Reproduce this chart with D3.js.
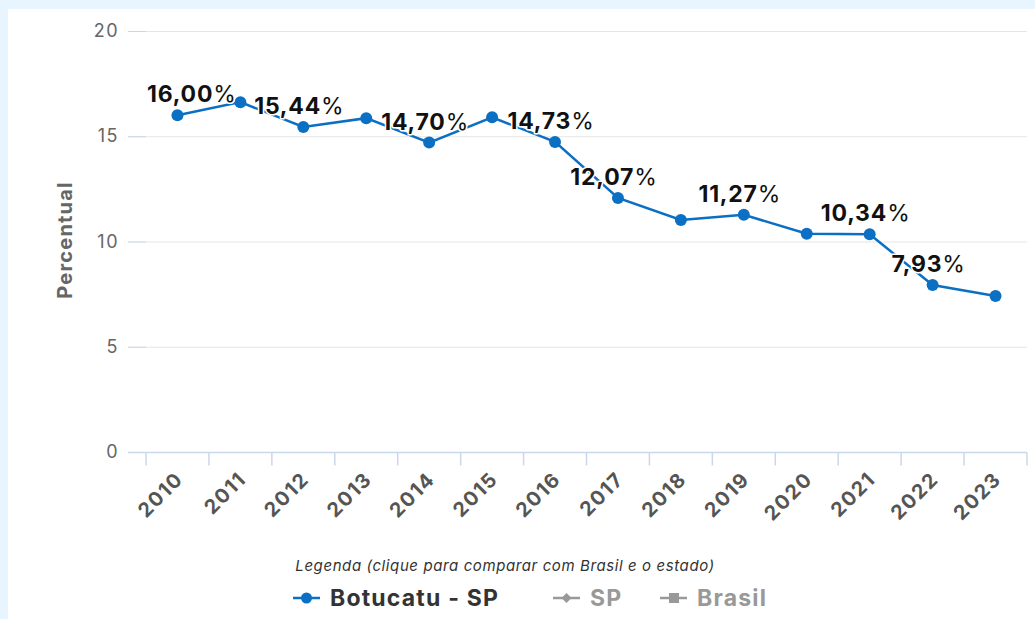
<!DOCTYPE html>
<html>
<head>
<meta charset="utf-8">
<script src="https://cdn.jsdelivr.net/npm/d3@7"></script>
<style>
  html, body { margin: 0; padding: 0; background: #e8f4fe; }
  #chart { position: absolute; left: 8px; top: 9px; }
  text { font-family: Inter, "Open Sans", sans-serif; }
</style>
</head>
<body>
<div id="chart"></div>
<script>
// Data
const years = ["2010", "2011", "2012", "2013", "2014", "2015", "2016",
               "2017", "2018", "2019", "2020", "2021", "2022", "2023"];
const values = [16.00, 16.62, 15.44, 15.86, 14.70, 15.90, 14.73,
                12.07, 11.02, 11.27, 10.37, 10.34, 7.93, 7.41];
// years that show a value label in the picture
const labeledYears = ["2010", "2012", "2014", "2016", "2017", "2019", "2021", "2022"];
const yTicks = [0, 5, 10, 15, 20];
const legendItems = ["Botucatu - SP", "SP", "Brasil"];

const data = years.map((y, i) => ({year: y, value: values[i]}));
const fmt = v => v.toFixed(2).replace(".", ",");

const width = 1027, height = 610;
// offsets of the white card inside the page
const ox = 8, oy = 9;
const margins = {top: 31 - oy, right: 0, bottom: height - (452 - oy), left: 146 - ox};
const blue = "#0b6fc3";

const svg = d3.select("#chart")
  .append("svg")
  .attr("width", width)
  .attr("height", height)
  .style("background", "#fff");

const xScale = d3.scaleBand()
  .domain(years)
  .range([margins.left, width - ox - margins.right])
  .padding(0);

const yScale = d3.scaleLinear()
  .domain([0, 20])
  .range([height - margins.bottom, margins.top]);

const gridLeft = margins.left - 18;
const plotRight = xScale.range()[1];

/* gridlines and small y ticks */
svg.append("g")
  .selectAll("line")
  .data(yTicks.filter(d => d > 0))
  .join("line")
    .attr("x1", gridLeft)
    .attr("x2", plotRight)
    .attr("y1", d => yScale(d) + 0.5)
    .attr("y2", d => yScale(d) + 0.5)
    .style("stroke", "#e6e6e6")
    .style("stroke-width", 1);

svg.append("g")
  .selectAll("line")
  .data(yTicks.filter(d => d > 0))
  .join("line")
    .attr("x1", gridLeft)
    .attr("x2", margins.left)
    .attr("y1", d => yScale(d) + 0.5)
    .attr("y2", d => yScale(d) + 0.5)
    .style("stroke", "#ccd6eb");

/* y tick labels */
svg.append("g")
  .selectAll("text")
  .data(yTicks)
  .join("text")
    .attr("x", 111)
    .attr("y", d => yScale(d) + 6)
    .style("text-anchor", "end")
    .style("font-size", "18px")
    .style("letter-spacing", "1.5px")
    .style("fill", "#666")
    .text(d => d);

/* y axis title */
svg.append("text")
  .attr("transform", `translate(64, ${240 - oy}) rotate(-90)`)
  .style("text-anchor", "middle")
  .style("font-size", "20px")
  .style("font-weight", 700)
  .style("letter-spacing", "1.2px")
  .style("fill", "#666")
  .text("Percentual");

/* x axis */
const x0 = yScale(0) + 0.5;
svg.append("line")
  .attr("x1", gridLeft).attr("x2", plotRight)
  .attr("y1", x0).attr("y2", x0)
  .style("stroke", "#ccd6eb")
  .style("stroke-width", 1.5);

svg.append("g")
  .selectAll("line")
  .data(years.map(y => xScale(y)).concat([plotRight]))
  .join("line")
    .attr("x1", d => d).attr("x2", d => d)
    .attr("y1", x0).attr("y2", x0 + 13)
    .style("stroke", "#ccd6eb")
    .style("stroke-width", 1.5);

svg.append("g")
  .selectAll("text")
  .data(years)
  .join("text")
    .attr("transform", d => `translate(${xScale(d) + xScale.bandwidth() / 2 + 7}, ${x0 + 28}) rotate(-45)`)
    .style("text-anchor", "end")
    .style("font-size", "20px")
    .style("font-weight", 700)
    .style("letter-spacing", "1.5px")
    .style("fill", "#555")
    .text(d => d);

/* line and points */
const cx = d => xScale(d.year) + xScale.bandwidth() / 2;
const line = d3.line()
  .x(cx)
  .y(d => yScale(d.value));

svg.append("path")
  .datum(data)
  .attr("d", line)
  .style("fill", "none")
  .style("stroke", blue)
  .style("stroke-width", 2.5);

svg.append("g")
  .selectAll("circle")
  .data(data)
  .join("circle")
    .attr("cx", cx)
    .attr("cy", d => yScale(d.value))
    .attr("r", 6)
    .style("fill", blue);

/* value labels */
const labels = svg.append("g")
  .selectAll("text")
  .data(data.filter(d => labeledYears.includes(d.year)))
  .join("text")
    .attr("y", d => yScale(d.value) - 13)
    .style("font-size", "23px")
    .style("font-weight", 700)
    .style("letter-spacing", "0.8px")
    .style("fill", "#111")
    .style("stroke", "#fff")
    .style("stroke-width", 3)
    .style("stroke-linejoin", "round")
    .style("paint-order", "stroke");

labels.append("tspan").text(d => fmt(d.value));
labels.append("tspan").style("font-weight", 400).text("%");

labels.each(function(d) {
  const w = this.getComputedTextLength();
  let x = cx(d) - 4 - w / 2;
  if (x < margins.left + 1) x = margins.left + 1;
  d3.select(this).attr("x", x);
});

/* legend */
svg.append("text")
  .attr("x", 505 - ox)
  .attr("y", 571 - oy)
  .style("text-anchor", "middle")
  .style("font-size", "15px")
  .style("font-style", "italic")
  .style("letter-spacing", "0.6px")
  .style("fill", "#333")
  .text("Legenda (clique para comparar com Brasil e o estado)");

const legendX = [293, 553, 660];
const legendColor = [blue, "#999", "#999"];
const legendText = ["#333", "#999", "#999"];
const ly = 598 - oy;

const items = svg.append("g")
  .selectAll("g")
  .data(legendItems)
  .join("g")
    .attr("transform", (d, i) => `translate(${legendX[i] - ox}, ${ly})`);

items.append("line")
  .attr("x1", 0).attr("x2", 27)
  .style("stroke", (d, i) => legendColor[i])
  .style("stroke-width", 2.5);

items.each(function(d, i) {
  const g = d3.select(this);
  if (i === 0) {
    g.append("circle").attr("cx", 13.5).attr("r", 5.5).style("fill", legendColor[i]);
  } else if (i === 1) {
    g.append("path").attr("d", "M13.5,-5L18.5,0L13.5,5L8.5,0Z").style("fill", legendColor[i]);
  } else {
    g.append("rect").attr("x", 9).attr("y", -5).attr("width", 10).attr("height", 10).style("fill", legendColor[i]);
  }
});

items.append("text")
  .attr("x", 37)
  .attr("y", 8)
  .style("font-size", "23px")
  .style("font-weight", 700)
  .style("letter-spacing", "1.2px")
  .style("fill", (d, i) => legendText[i])
  .text(d => d);
</script>
</body>
</html>
